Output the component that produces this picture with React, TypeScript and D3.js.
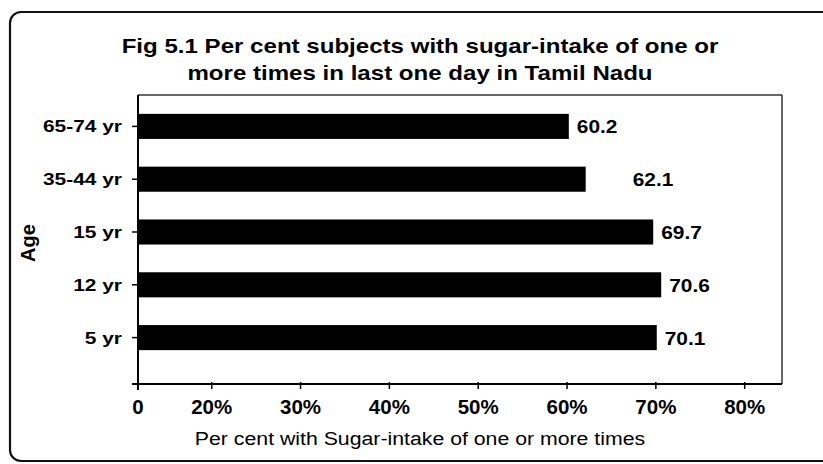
import React from 'react';
import * as d3 from 'd3';

// categories top -> bottom, as they appear in the figure
const ageGroups = ['65-74 yr', '35-44 yr', '15 yr', '12 yr', '5 yr'];
const sugarPct = [60.2, 62.1, 69.7, 70.6, 70.1];

// the printed axis starts a little above 10% but its first label reads "0"
const axisMin = 11.7;
const axisMax = 84.2;
const xTickValues = [axisMin, 20, 30, 40, 50, 60, 70, 80];
const xTickLabels = ['0', '20%', '30%', '40%', '50%', '60%', '70%', '80%'];

const titleLines = [
  'Fig 5.1 Per cent subjects with sugar-intake of one or',
  'more times in last one day in Tamil Nadu',
];

const W = 823;
const H = 464;
const FONT = '"Liberation Sans", Arial, Helvetica, sans-serif';

// the 35-44 label sits further off its bar in the original
const labelDx: Record<string, number> = { '35-44 yr': 47 };

const frame = { left: 138, right: 782, top: 95, bottom: 384 };

// stretched text (the scan is wider than it is tall)
const SText = ({ x, y, sx = 1, anchor = 'middle', size, weight = 'bold', children }: any) => (
  <text
    transform={`translate(${x},${y}) scale(${sx},1)`}
    textAnchor={anchor}
    fontFamily={FONT}
    fontSize={size}
    fontWeight={weight}
    fill="#000"
  >
    {children}
  </text>
);

const App = () => {
  const x = d3.scaleLinear().domain([axisMin, axisMax]).range([frame.left, frame.right]);
  const y = d3.scaleBand<string>()
    .domain(ageGroups)
    .range([100, 364])
    .paddingInner(0.525)
    .paddingOuter(0.2625);

  return (
    <svg width={W} height={H} style={{ position: 'absolute', left: 0, top: 0, background: '#fff' }}>
      <rect x={0} y={0} width={W} height={H} fill="#fff" />
      {/* outer rounded border, runs off the right edge */}
      <rect x={10} y={12} width={840} height={449} rx={11} fill="none" stroke="#111" strokeWidth={2.2} />

      {titleLines.map((t, i) => (
        <SText key={t} x={420} y={53 + i * 27} sx={1.235} size={19.5}>{t}</SText>
      ))}

      {/* plot frame */}
      <line x1={frame.left} x2={frame.right} y1={frame.top} y2={frame.top} stroke="#333" strokeWidth={1.3} />
      <line x1={frame.right} x2={frame.right} y1={frame.top} y2={frame.bottom} stroke="#333" strokeWidth={1.5} />

      {/* bars */}
      {ageGroups.map((g, i) => (
        <rect
          key={g}
          x={x(axisMin)}
          y={y(g)}
          width={x(sugarPct[i]) - x(axisMin)}
          height={y.bandwidth()}
          fill="#000"
        />
      ))}

      {/* value labels */}
      {ageGroups.map((g, i) => (
        <SText
          key={g}
          x={x(sugarPct[i]) + (labelDx[g] ?? 8)}
          y={(y(g) ?? 0) + y.bandwidth() / 2 + 7}
          sx={1.1}
          size={19}
          anchor="start"
        >
          {sugarPct[i].toFixed(1)}
        </SText>
      ))}

      {/* y axis */}
      <line x1={frame.left} x2={frame.left} y1={frame.top} y2={frame.bottom + 6} stroke="#000" strokeWidth={2} />
      {ageGroups.map((g) => {
        const cy = (y(g) ?? 0) + y.bandwidth() / 2;
        return (
          <g key={g}>
            <line x1={frame.left - 6} x2={frame.left} y1={cy} y2={cy} stroke="#000" strokeWidth={1.5} />
            <SText x={122} y={cy + 6} sx={1.23} size={17} anchor="end">{g}</SText>
          </g>
        );
      })}

      {/* x axis */}
      <line x1={frame.left - 6} x2={frame.right} y1={frame.bottom} y2={frame.bottom} stroke="#000" strokeWidth={2} />
      {xTickValues.map((v, i) => (
        <g key={v}>
          <line x1={x(v)} x2={x(v)} y1={frame.bottom - 2} y2={frame.bottom + 5} stroke="#000" strokeWidth={1.5} />
          <SText x={x(v)} y={414} size={20.5}>{xTickLabels[i]}</SText>
        </g>
      ))}

      <SText x={420} y={445} sx={1.12} size={19} weight="normal">
        Per cent with Sugar-intake of one or more times
      </SText>

      <text
        transform={`translate(35,243) rotate(-90)`}
        textAnchor="middle"
        fontFamily={FONT}
        fontSize={20}
        fontWeight="bold"
      >
        Age
      </text>
    </svg>
  );
};

export default App;
